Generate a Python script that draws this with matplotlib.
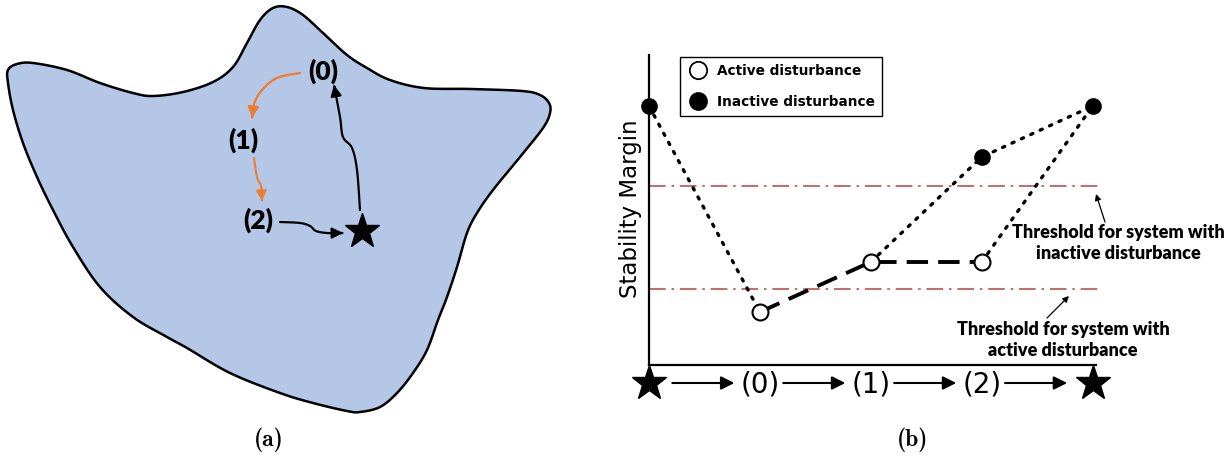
import numpy as np
import matplotlib
matplotlib.use('Agg')
import matplotlib.pyplot as plt
from matplotlib.path import Path
from matplotlib.patches import Polygon, FancyArrowPatch
from matplotlib.lines import Line2D

W, H = 1229, 458

# ---- panel (b): stability margin along the sequence ----
steps = [0, 1, 2, 3, 4]
step_labels = ['(0)', '(1)', '(2)']
active_x = [1, 2, 3]
active_y = [0.53, 1.03, 1.03]
inactive_x = [0, 3, 4]
inactive_y = [2.59, 2.08, 2.59]
thr_inactive = 1.79
thr_active = 0.76

# ---- panel (a): region outline and path (pixel units) ----
blob_x = [8, 17, 33, 67, 100, 133, 153, 183, 213, 233, 247, 260, 273, 287, 303, 323, 347, 367,
          390, 424, 471, 522, 540, 549, 550, 543, 520, 493, 477, 467, 457, 447, 438, 427, 413,
          397, 380, 360, 347, 313, 280, 230, 187, 167, 133, 100, 73, 53, 37, 23, 13, 8]
blob_y = [70, 64, 63, 70, 83, 93, 96, 92, 82, 67, 43, 20, 8, 7, 15, 33, 55, 68,
          80, 88, 89, 91, 95, 103, 113, 128, 157, 190, 213, 233, 267, 297, 320, 350, 373,
          393, 407, 412, 411, 403, 393, 373, 348, 337, 317, 287, 247, 210, 177, 143, 110, 83]
node_labels = ['(0)', '(1)', '(2)']
node_x = [323, 243, 258]
node_y = [71, 140, 220]
star_xy = (362, 231)
arrow_orange1 = [(300, 73), (277, 78), (262, 90), (254, 104), (252, 118)]
arrow_orange2 = [(254, 158), (256, 172), (258, 180), (261, 186), (262, 201)]
arrow_black1 = [(280, 222), (300, 223), (310, 226), (316, 231), (327, 233), (343, 233)]
arrow_black2 = [(360, 210), (357, 170), (352, 148), (343, 137), (340, 117), (334, 85)]


def spline(pts, n=16, closed=False):
    P = np.asarray(pts, float)
    if not closed:
        P = np.vstack([P[0], P, P[-1]])
    N = len(P)
    out = []
    rng = range(N) if closed else range(1, N - 2)
    for i in rng:
        p0, p1, p2, p3 = P[i - 1], P[i], P[(i + 1) % N], P[(i + 2) % N]
        t = np.linspace(0, 1, n, endpoint=False)[:, None]
        out.append(0.5 * (2 * p1 + (-p0 + p2) * t + (2 * p0 - 5 * p1 + 4 * p2 - p3) * t ** 2
                          + (-p0 + 3 * p1 - 3 * p2 + p3) * t ** 3))
    if not closed:
        out.append(P[-2][None, :])
    return np.vstack(out)


fig = plt.figure(figsize=(W / 100, H / 100), dpi=100)
ax0 = fig.add_axes([0, 0, 1, 1])
ax0.set_xlim(0, W)
ax0.set_ylim(H, 0)
ax0.axis('off')

# blob
outline = spline(list(zip(blob_x, blob_y)), closed=True)
ax0.add_patch(Polygon(outline, closed=True, facecolor='#b4c7e7', edgecolor='black', lw=1.8))

orange = '#ed7d31'
for pts, col, lw, ms in [(arrow_orange1, orange, 1.7, 16), (arrow_orange2, orange, 1.5, 15),
                         (arrow_black1, 'black', 1.6, 16), (arrow_black2, 'black', 1.6, 16)]:
    curve = spline(pts)
    ax0.add_patch(FancyArrowPatch(path=Path(curve), arrowstyle='-|>', color=col, lw=lw,
                                  mutation_scale=ms))

for lab, x, y in zip(node_labels, node_x, node_y):
    ax0.text(x, y, lab, ha='center', va='center', fontsize=19, fontweight='heavy',
             family='Lato', color='black')
ax0.plot(*star_xy, marker='*', ms=26, color='black')

# captions
ax0.text(269, 440, '(a)', ha='center', va='center', fontsize=17, family='cmb10')
ax0.text(913, 440, '(b)', ha='center', va='center', fontsize=17, family='cmb10')

# ---- panel (b) axes ----
x_left, x_right, y_base, y_top = 649, 1096, 365, 55
ax = fig.add_axes([x_left / W, (H - y_base) / H, (x_right - x_left) / W, (y_base - y_top) / H])
ax.patch.set_alpha(0)
ax.set_xlim(0, 4.03)
ax.set_ylim(0, 3.10)
ax.set_xticks([])
ax.set_yticks([])
for s in ['top', 'right']:
    ax.spines[s].set_visible(False)
for s in ['left', 'bottom']:
    ax.spines[s].set_linewidth(1.6)

thr_col = '#c0504d'
for thr in [thr_inactive, thr_active]:
    ax.plot([0, 4.05], [thr, thr], color=thr_col, lw=1.2, ls=(0, (10, 3.5, 1.5, 3.5)), clip_on=False)

dot = dict(color='black', lw=2.4, ls=(0, (0.7, 2.4)), dash_capstyle='round', clip_on=False)
ax.plot([inactive_x[0], active_x[0]], [inactive_y[0], active_y[0]], **dot)
ax.plot([active_x[1], inactive_x[1], inactive_x[2]], [active_y[1], inactive_y[1], inactive_y[2]], **dot)
ax.plot([active_x[2], inactive_x[2]], [active_y[2], inactive_y[2]], **dot)
ax.plot(active_x, active_y, color='black', lw=2.8, ls=(0, (5.5, 2.6)), clip_on=False)

ax.plot(active_x, active_y, 'o', ms=11.5, mfc='white', mec='black', mew=1.5, clip_on=False, zorder=5)
ax.plot(inactive_x, inactive_y, 'o', ms=11, mfc='black', mec='black', clip_on=False, zorder=5)

handles = [Line2D([], [], marker='o', ls='none', ms=12.5, mfc='white', mec='black', mew=1.3),
           Line2D([], [], marker='o', ls='none', ms=12.5, mfc='black', mec='black')]
leg = fig.legend(handles, ['Active disturbance', 'Inactive disturbance'], loc='upper left',
                 bbox_to_anchor=(680 / W, 1 - 57 / H), bbox_transform=fig.transFigure,
                 borderaxespad=0, fancybox=False, framealpha=1, edgecolor='black',
                 prop={'size': 9.8, 'weight': 'bold'}, handlelength=1.7, handletextpad=0.55,
                 labelspacing=1.25, borderpad=0.5)
leg.get_frame().set_linewidth(1.0)

# sequence below the axis
tr = ax.get_xaxis_transform()
y_row = -(383 - y_base) / (y_base - y_top)
y_txt = -(385 - y_base) / (y_base - y_top)
for s in [steps[0], steps[-1]]:
    ax.plot(s, y_row, marker='*', ms=26, color='black', transform=tr, clip_on=False)
for s, lab in zip(steps[1:-1], step_labels):
    ax.text(s, y_txt, lab, transform=tr, ha='center', va='center', fontsize=20)
for s in steps[:-1]:
    ax.annotate('', xy=(s + 0.77, y_row), xytext=(s + 0.21, y_row), xycoords=tr,
                textcoords=tr, annotation_clip=False,
                arrowprops=dict(arrowstyle='-|>', color='black', lw=1.5, mutation_scale=20,
                                shrinkA=0, shrinkB=0))

ax0.text(630, 209, 'Stability Margin', rotation=90, ha='center', va='center', fontsize=16.5)

# threshold notes
ax0.text(1118, 243, 'Threshold for system with\ninactive disturbance', ha='center', va='center',
         fontsize=13, fontweight='heavy', family='Lato', linespacing=1.25)
ax0.annotate('', xy=(1096, 194), xytext=(1105, 222),
             arrowprops=dict(arrowstyle='-|>', color='black', lw=0.9, mutation_scale=9, shrinkA=0, shrinkB=0))
ax0.text(1063, 340, 'Threshold for system with\nactive disturbance', ha='center', va='center',
         fontsize=13, fontweight='heavy', family='Lato', linespacing=1.25)
ax0.annotate('', xy=(1069, 296), xytext=(1047, 318),
             arrowprops=dict(arrowstyle='-|>', color='black', lw=0.9, mutation_scale=9, shrinkA=0, shrinkB=0))

fig.savefig('out.png', dpi=100)
